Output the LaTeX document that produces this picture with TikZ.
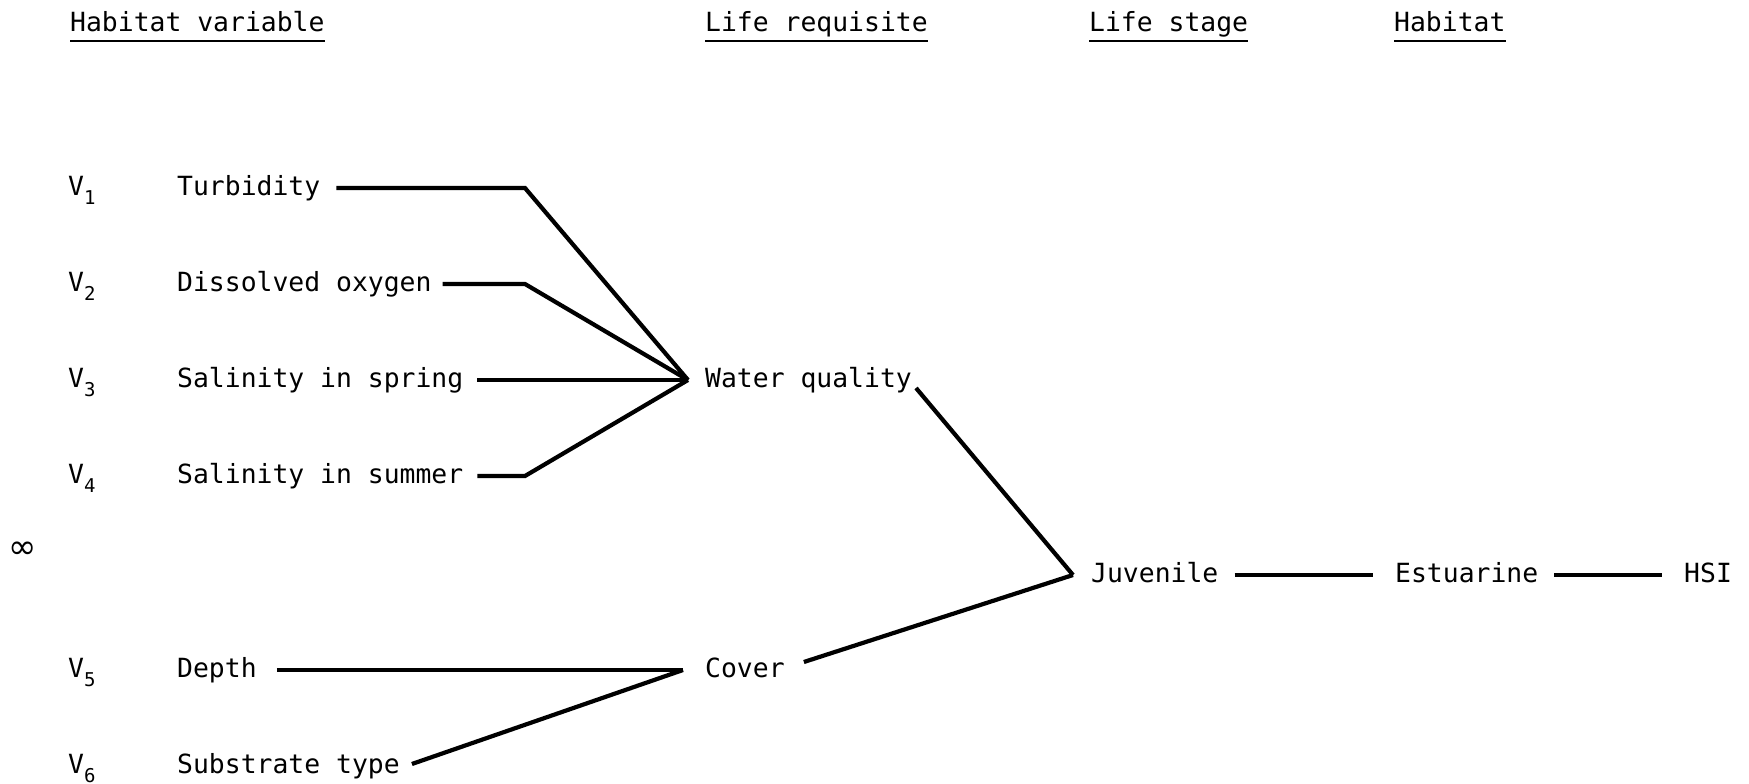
\documentclass[tikz,border=0pt]{standalone}
\usepackage{fontspec}
\setmainfont{DejaVu Sans Mono}
\newfontfamily\symfont{DejaVu Sans}
\usetikzlibrary{calc}
\newcommand\vsub[1]{V\raisebox{-0.36em}{\fontsize{19}{19}\selectfont #1}}
\begin{document}
\begin{tikzpicture}[x=1pt,y=-1pt,
  lbl/.style={anchor=base west,inner sep=0pt,text height=20pt,text depth=6pt,
              font=\fontsize{26.4}{30}\selectfont},
  conn/.style={line width=4.2pt,line join=miter},
  uline/.style={line width=2.8pt}]
\useasboundingbox (0,0) rectangle (1749,784);

% headers
\node[lbl] (hv) at (70,32) {Habitat variable};
\node[lbl] (hlr) at (705,32) {Life requisite};
\node[lbl] (hls) at (1089,32) {Life stage};
\node[lbl] (hh) at (1394,32) {Habitat};
\foreach \n in {hv,hlr,hls,hh}
  \draw[uline] ($(\n.base west)+(0,9)$) -- ($(\n.base east)+(0,9)$);

% variable symbols
\node[lbl] (v1) at (68,195) {\vsub{1}};
\node[lbl] (v2) at (68,291) {\vsub{2}};
\node[lbl] (v3) at (68,387) {\vsub{3}};
\node[lbl] (v4) at (68,483) {\vsub{4}};
\node[lbl] (v5) at (68,677) {\vsub{5}};
\node[lbl] (v6) at (68,773) {\vsub{6}};

% variable names
\node[lbl] (turb) at (177,195) {Turbidity};
\node[lbl] (dox) at (177,291) {Dissolved oxygen};
\node[lbl] (ssp) at (177,387) {Salinity in spring};
\node[lbl] (ssu) at (177,483) {Salinity in summer};
\node[lbl] (dep) at (177,677) {Depth};
\node[lbl] (sub) at (177,773) {Substrate type};

% life requisites
\node[lbl] (wq) at (705,387) {Water quality};
\node[lbl] (cov) at (705,677) {Cover};

% life stage, habitat, HSI
\node[lbl] (juv) at (1091,582) {Juvenile};
\node[lbl] (est) at (1395,582) {Estuarine};
\node[lbl] (hsi) at (1684,582) {HSI};

% infinity mark
\node[inner sep=0pt,font=\symfont\fontsize{34}{34}\selectfont] (inf) at (23,550) {∞};

% junction points
\coordinate (wqhub) at ([xshift=-17pt]wq.west);
\coordinate (wqbend) at (525,0);
\coordinate (covhub) at ([xshift=-22pt]cov.west);
\coordinate (juvhub) at ([xshift=-18pt]juv.west);

% connectors to water quality
\draw[conn] ([xshift=16pt]turb.east) -- (turb.east -| wqbend) -- (wqhub);
\draw[conn] ([xshift=11pt]dox.east) -- (dox.east -| wqbend) -- (wqhub);
\draw[conn] ([xshift=14pt]ssp.east) -- (wqhub);
\draw[conn] ([xshift=14pt]ssu.east) -- (ssu.east -| wqbend) -- (wqhub);

% connectors to cover
\draw[conn] ([xshift=20pt]dep.east) -- (covhub);
\draw[conn] ([shift={(12,-2)}]sub.east) -- (covhub);

% to juvenile
\draw[conn] ([shift={(4,8)}]wq.east) -- (juvhub);
\draw[conn] ([shift={(19,-8)}]cov.east) -- (juvhub);

% chain
\draw[conn] ([xshift=16pt]juv.east) -- ([xshift=-22pt]est.west);
\draw[conn] ([xshift=16pt]est.east) -- ([xshift=-22pt]hsi.west);
\end{tikzpicture}
\end{document}
